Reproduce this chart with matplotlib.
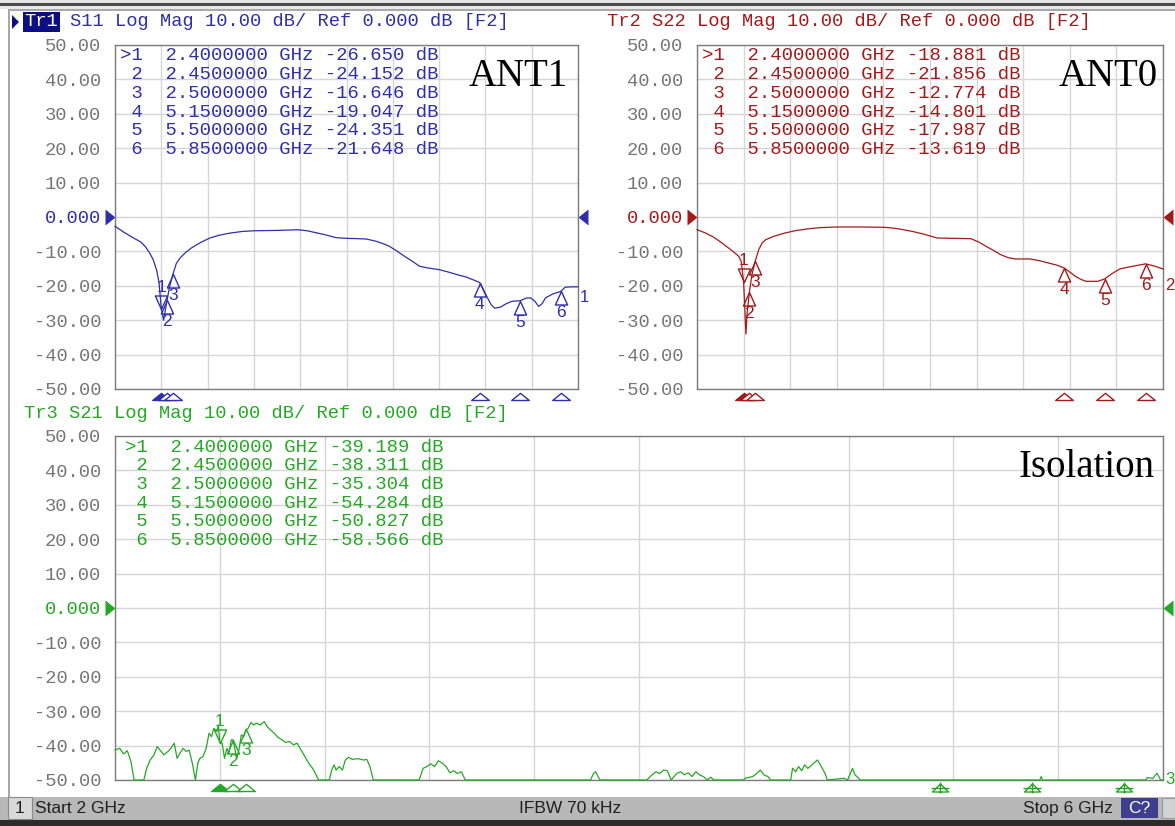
import numpy as np
import matplotlib.pyplot as plt
from matplotlib.path import Path
from matplotlib.patches import Rectangle, Polygon

W, H = 1175, 826

# ---- values ----
marker_freq = [2.40, 2.45, 2.50, 5.15, 5.50, 5.85]
s11_marker_db = [-26.650, -24.152, -16.646, -19.047, -24.351, -21.648]
s22_marker_db = [-18.881, -21.856, -12.774, -14.801, -17.987, -13.619]
s21_marker_db = [-39.189, -38.311, -35.304, -54.284, -50.827, -58.566]

s11_freq = [2.00, 2.08, 2.16, 2.22, 2.26, 2.30, 2.33, 2.36, 2.38, 2.40, 2.42, 2.45,
            2.47, 2.50, 2.53, 2.56, 2.61, 2.66, 2.74, 2.82, 2.90, 2.99, 3.10, 3.20,
            3.40, 3.58, 3.66, 3.74, 3.82, 3.91, 4.00, 4.10, 4.17, 4.25, 4.32, 4.37,
            4.44, 4.50, 4.57, 4.63, 4.70, 4.80, 4.88, 4.96, 5.03, 5.09, 5.15, 5.18,
            5.21, 5.25, 5.28, 5.33, 5.38, 5.43, 5.50, 5.55, 5.59, 5.63, 5.66, 5.69,
            5.72, 5.78, 5.85, 5.89, 5.95, 6.00]
s11_db = [-2.7, -4.5, -6.1, -7.2, -8.5, -10.5, -12.4, -15.5, -19.0, -26.65, -30.0, -24.15,
          -20.5, -16.65, -13.5, -12.0, -10.3, -9.0, -7.4, -6.1, -5.3, -4.7, -4.2, -4.0,
          -3.9, -3.7, -4.0, -4.6, -5.2, -6.0, -6.2, -6.3, -6.4, -7.0, -7.8, -8.5,
          -10.0, -11.4, -12.9, -14.3, -14.8, -15.3, -16.0, -16.8, -17.4, -18.2, -19.05, -21.0,
          -23.0, -25.5, -26.5, -26.2, -25.2, -24.5, -24.35, -23.6, -23.5, -24.6, -26.0, -25.2,
          -23.5, -22.4, -21.65, -20.4, -20.3, -20.3]

s22_freq = [2.00, 2.07, 2.14, 2.20, 2.27, 2.32, 2.36, 2.38, 2.40, 2.42, 2.43, 2.45,
            2.47, 2.50, 2.53, 2.56, 2.59, 2.66, 2.75, 2.84, 2.94, 3.05, 3.20, 3.40,
            3.61, 3.68, 3.74, 3.85, 3.96, 4.06, 4.20, 4.35, 4.42, 4.48, 4.55, 4.61,
            4.67, 4.73, 4.86, 4.95, 5.02, 5.09, 5.15, 5.20, 5.25, 5.30, 5.34, 5.44,
            5.50, 5.56, 5.63, 5.70, 5.76, 5.85, 5.92, 6.00]
s22_db = [-3.7, -4.6, -5.8, -7.2, -9.0, -10.3, -11.5, -13.0, -18.88, -34.0, -28.0, -21.86,
          -17.0, -12.77, -9.5, -7.5, -6.6, -5.6, -4.7, -4.0, -3.5, -3.1, -2.9, -2.9,
          -3.0, -3.2, -3.5, -4.2, -5.1, -6.1, -6.2, -6.3, -7.3, -8.5, -9.8, -11.0,
          -11.8, -12.2, -12.2, -12.8, -13.4, -14.0, -14.8, -16.0, -17.3, -18.2, -18.7, -18.7,
          -17.99, -16.5, -15.1, -14.6, -14.2, -13.62, -14.2, -15.1]

s21_freq = [2.000, 2.018, 2.032, 2.047, 2.061, 2.073, 2.110, 2.121, 2.134, 2.149, 2.161, 2.172,
            2.187, 2.202, 2.213, 2.226, 2.237, 2.248, 2.260, 2.272, 2.283, 2.295, 2.307, 2.316,
            2.324, 2.336, 2.348, 2.359, 2.368, 2.377, 2.389, 2.394, 2.400, 2.409, 2.418, 2.427,
            2.435, 2.444, 2.450, 2.456, 2.464, 2.473, 2.482, 2.491, 2.500, 2.508, 2.519, 2.529,
            2.540, 2.555, 2.570, 2.581, 2.593, 2.608, 2.622, 2.637, 2.651, 2.666, 2.681, 2.695,
            2.710, 2.725, 2.739, 2.754, 2.765, 2.777, 2.818, 2.827, 2.836, 2.844, 2.856, 2.868,
            2.879, 2.891, 2.906, 2.928, 2.949, 2.961, 2.973, 2.986, 3.161, 3.176, 3.190, 3.205,
            3.220, 3.234, 3.249, 3.264, 3.278, 3.293, 3.307, 3.322, 3.337, 3.815, 3.826, 3.835,
            3.845, 3.852, 4.030, 4.036, 4.050, 4.065, 4.079, 4.094, 4.108, 4.123, 4.144, 4.159,
            4.173, 4.188, 4.202, 4.217, 4.231, 4.246, 4.260, 4.275, 4.285, 4.398, 4.405, 4.434,
            4.449, 4.463, 4.477, 4.492, 4.502, 4.579, 4.586, 4.598, 4.609, 4.621, 4.632, 4.644,
            4.655, 4.667, 4.681, 4.696, 4.710, 4.719, 4.782, 4.796, 4.815, 4.824, 4.832, 4.844,
            5.150, 5.500, 5.530, 5.535, 5.540, 5.850, 5.935, 5.940, 5.962, 5.977, 5.991, 6.000]
s21_db = [-41.3, -40.8, -42.4, -41.5, -44.7, -50.0, -50.0, -46.6, -44.2, -42.7, -40.3, -41.3,
          -42.7, -41.7, -40.8, -39.3, -43.7, -42.2, -40.8, -41.7, -41.3, -45.1, -50.0, -45.1,
          -43.7, -43.2, -40.8, -36.4, -37.4, -35.0, -35.9, -34.0, -39.19, -39.3, -43.7, -40.8,
          -42.2, -38.3, -38.31, -40.3, -43.7, -41.3, -36.9, -37.4, -35.30, -35.0, -33.3, -34.0,
          -33.5, -34.0, -33.0, -34.5, -35.4, -36.4, -37.6, -38.3, -39.1, -38.8, -39.8, -39.3,
          -41.3, -43.2, -45.1, -46.6, -48.1, -50.0, -50.0, -47.1, -45.6, -47.1, -46.1, -47.1,
          -44.2, -43.4, -44.0, -43.8, -44.2, -44.0, -46.1, -50.0, -50.0, -46.6, -46.1, -45.3,
          -46.1, -44.4, -45.1, -46.1, -47.9, -47.3, -48.1, -47.6, -50.0, -50.0, -48.1, -47.6,
          -49.2, -50.0, -50.0, -49.5, -48.5, -47.6, -48.1, -47.1, -47.3, -50.0, -48.1, -47.6,
          -48.5, -47.9, -49.0, -47.6, -48.5, -49.0, -50.0, -49.2, -50.0, -50.0, -49.5, -49.0,
          -48.1, -47.1, -48.5, -49.0, -50.0, -50.0, -46.6, -47.6, -46.1, -47.3, -45.6, -46.6,
          -46.0, -45.1, -44.2, -46.1, -48.1, -50.0, -49.5, -50.0, -46.6, -48.5, -49.0, -50.0,
          -54.28, -50.83, -50.0, -49.0, -50.0, -58.57, -50.0, -49.3, -49.5, -48.0, -50.0, -50.0]

y_ticks = [50, 40, 30, 20, 10, 0, -10, -20, -30, -40, -50]
y_tick_labels = ["50.00", "40.00", "30.00", "20.00", "10.00", "0.000",
                 "-10.00", "-20.00", "-30.00", "-40.00", "-50.00"]

BLUE, RED, GREEN = "#2f2faa", "#a31a1a", "#25a825"
MONO = "Liberation Mono"
PT = 0.72  # points per pixel at 100 dpi


def fig_xy(x, y):
    return x / W, 1 - y / H


def closed(verts):
    return Path(verts + [verts[0]], [Path.MOVETO] + [Path.LINETO] * (len(verts) - 1) + [Path.CLOSEPOLY])


down_tri = closed([(0, 0), (-0.45, 1), (0.45, 1)])
up_tri = closed([(0, 0), (-0.45, -1), (0.45, -1)])
edge_tri = closed([(-0.8, -1), (0.8, -1), (0, -0.35)])
ref_left = closed([(0, 0), (-1, 0.8), (-1, -0.8)])
ref_right = closed([(0, 0), (1, 0.8), (1, -0.8)])
off_scale = Path([(-0.8, -1.15), (0.8, -1.15), (0, -0.35), (-0.8, -1.15),
                  (0, -0.2), (0, -1.3), (-0.9, -0.8), (0.9, -0.8)],
                 [Path.MOVETO, Path.LINETO, Path.LINETO, Path.CLOSEPOLY,
                  Path.MOVETO, Path.LINETO, Path.MOVETO, Path.LINETO])

fig = plt.figure(figsize=(W / 100, H / 100), dpi=100)
fig.patch.set_facecolor("white")


def make_axes(x0, y0, x1, y1, color):
    ax = fig.add_axes([x0 / W, 1 - y1 / H, (x1 - x0) / W, (y1 - y0) / H])
    ax.set_xlim(2, 6)
    ax.set_ylim(-50, 50)
    ax.set_xticks(np.linspace(2, 6, 11))
    ax.set_xticklabels([])
    ax.set_yticks(y_ticks)
    ax.set_yticklabels(y_tick_labels, fontfamily=MONO, fontsize=13.5, color="#767676")
    ax.get_yticklabels()[5].set_color(color)
    ax.tick_params(axis="both", length=0, pad=10)
    ax.grid(True, color="#d6d6d6", linewidth=1.0)
    for sp in ax.spines.values():
        sp.set_color("#7c7c7c")
        sp.set_linewidth(1.0)
    # reference level arrows at 0 dB
    ax.plot([2], [0], marker=ref_left, ms=20 * PT, color=color, mew=0, clip_on=False)
    ax.plot([6], [0], marker=ref_right, ms=20 * PT, color=color, mew=0, clip_on=False)
    return ax


def draw_trace(ax, freq, db, mdb, color, end_label, end_off):
    ax.plot(freq, np.clip(db, -50, 50), color=color, lw=0.9, clip_on=False, zorder=3)
    ax.annotate(end_label, (6, np.clip(db[-1], -50, 50)), xytext=(1.5, end_off * PT),
                textcoords="offset points", ha="left", va="center", color=color,
                fontsize=12, family="Liberation Sans", annotation_clip=False)
    for i, (f, v) in enumerate(zip(marker_freq, mdb)):
        if v < -50:
            ax.plot([f], [-50], marker=off_scale, ms=26 * PT, mfc="none", mec=color,
                    mew=1, clip_on=False, zorder=4)
            continue
        ax.plot([f], [-50], marker=edge_tri, ms=22 * PT, mfc=color if i == 0 else "white",
                mec=color, mew=1, clip_on=False, zorder=4)
        if i == 0:
            ax.plot([f], [v], marker=down_tri, ms=27 * PT, mfc="none", mec=color, mew=1, zorder=4)
            ax.annotate(str(i + 1), (f, v), xytext=(0, 14 * PT), textcoords="offset points",
                        ha="center", va="bottom", color=color, fontsize=12.5,
                        family="Liberation Sans")
        else:
            ax.plot([f], [v], marker=up_tri, ms=27 * PT, mfc="none", mec=color, mew=1, zorder=4)
            ax.annotate(str(i + 1), (f, v), xytext=(0, -14 * PT), textcoords="offset points",
                        ha="center", va="top", color=color, fontsize=12.5,
                        family="Liberation Sans")


def marker_table(x, y, mdb, color):
    for i, (f, v) in enumerate(zip(marker_freq, mdb)):
        tag = ">1" if i == 0 else f" {i + 1}"
        line = f"{tag}  {f:.7f} GHz {v:.3f} dB"
        fig.text(*fig_xy(x, y + i * 18.7), line, family=MONO, fontsize=13.7,
                 color=color, ha="left", va="center")


ax1 = make_axes(115, 45, 578, 389, BLUE)
ax2 = make_axes(697, 45, 1163, 389, RED)
ax3 = make_axes(115, 436, 1163, 780, GREEN)

draw_trace(ax1, s11_freq, s11_db, s11_marker_db, BLUE, "1", -11)
draw_trace(ax2, s22_freq, s22_db, s22_marker_db, RED, "2", -17)
draw_trace(ax3, s21_freq, s21_db, s21_marker_db, GREEN, "3", 0)

marker_table(120, 56, s11_marker_db, BLUE)
marker_table(702, 56, s22_marker_db, RED)
marker_table(125, 447, s21_marker_db, GREEN)

fig.text(*fig_xy(568, 86), "ANT1", family="Liberation Serif", fontsize=28, ha="right", va="baseline")
fig.text(*fig_xy(1158, 86), "ANT0", family="Liberation Serif", fontsize=28, ha="right", va="baseline")
fig.text(*fig_xy(1155, 477), "Isolation", family="Liberation Serif", fontsize=28, ha="right", va="baseline")

# trace headers
hdr = "S{} Log Mag 10.00 dB/ Ref 0.000 dB [F2]"
fig.text(*fig_xy(24.5, 22), "Tr1", family=MONO, fontsize=13.5, color="white", va="center",
         bbox=dict(facecolor="#0e0e84", edgecolor="none", pad=1.2))
fig.text(*fig_xy(70, 22), hdr.format("11"), family=MONO, fontsize=13.5, color=BLUE, va="center")
fig.add_artist(Polygon([fig_xy(12, 15), fig_xy(12, 29), fig_xy(19, 22)], closed=True,
                       transform=fig.transFigure, color="#0e0e84", lw=0))
fig.text(*fig_xy(607, 22), "Tr2 " + hdr.format("22"), family=MONO, fontsize=13.5, color=RED, va="center")
fig.text(*fig_xy(24, 413), "Tr3 " + hdr.format("21"), family=MONO, fontsize=13.5, color=GREEN, va="center")


def fig_rect(x0, y0, x1, y1, **kw):
    fig.add_artist(Rectangle(fig_xy(x0, y1), (x1 - x0) / W, (y1 - y0) / H,
                             transform=fig.transFigure, **kw))


# window frame
fig_rect(0, 0, W, 3, color="#e4e4e4", lw=0)
fig_rect(0, 3, W, 5.5, color="#4a4a4a", lw=0)
fig_rect(0, 5.5, W, 9, color="#e8e8e8", lw=0)
fig_rect(8, 9, W, 10.5, color="#a8a8a8", lw=0)
fig_rect(8, 9, 10, 797, color="#a8a8a8", lw=0)

# status bar
fig_rect(0, 797, W, 820, color="#b8b8b8", lw=0)
fig_rect(0, 820, W, 826, color="#2c2c2c", lw=0)
fig_rect(8, 797, 32, 819, facecolor="#d8d8d8", edgecolor="#8a8a8a", lw=0.8)
fig_rect(1121, 798, 1158, 818, color="#3e3e8e", lw=0)
fig_rect(1162, 798, W, 818, facecolor="#d2d2d2", edgecolor="#9a9a9a", lw=0.8)
sb = dict(family="Liberation Sans", fontsize=12.5, va="center")
fig.text(*fig_xy(15, 808.5), "1", color="#202020", **sb)
fig.text(*fig_xy(35, 808.5), "Start 2 GHz", color="#202020", **sb)
fig.text(*fig_xy(570, 808.5), "IFBW 70 kHz", color="#202020", ha="center", **sb)
fig.text(*fig_xy(1113, 808.5), "Stop 6 GHz", color="#202020", ha="right", **sb)
fig.text(*fig_xy(1139.5, 808.5), "C?", color="white", ha="center", **sb)

fig.savefig("out.png", dpi=100)
